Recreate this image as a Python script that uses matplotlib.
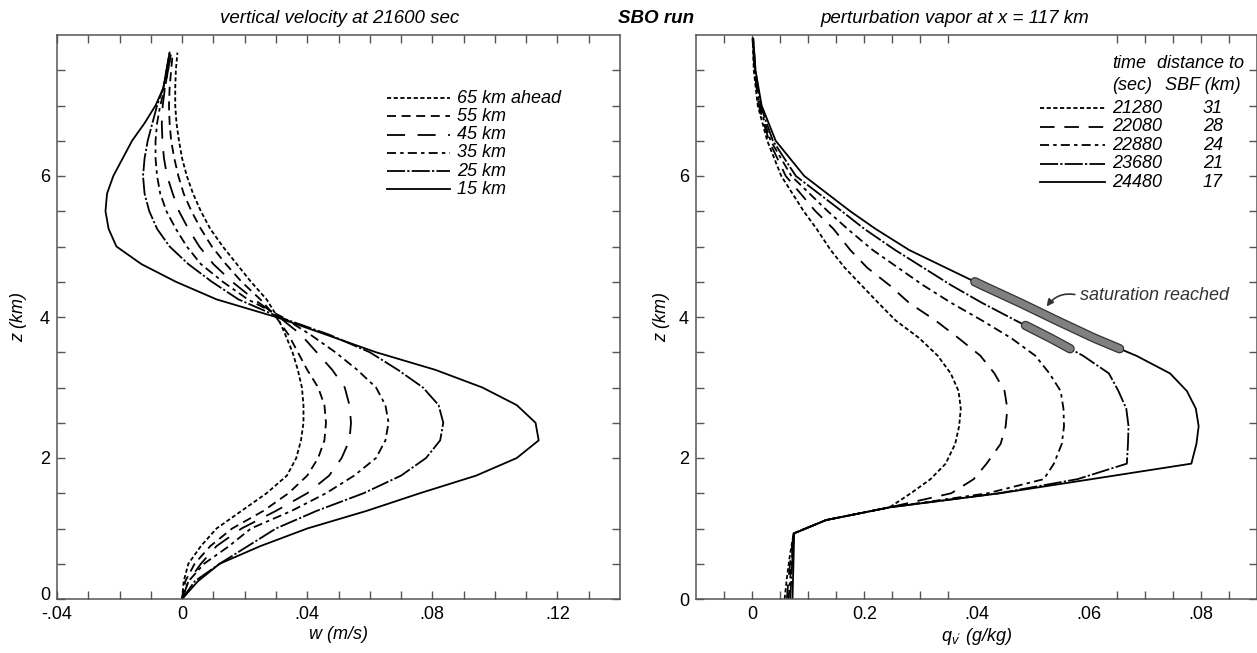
import numpy as np
import matplotlib
matplotlib.use("Agg")
import matplotlib.pyplot as plt
import matplotlib.patheffects as pe
import matplotlib.transforms as mtransforms

plt.rcParams['font.family'] = ['Liberation Sans', 'DejaVu Sans']
plt.rcParams['mathtext.fontset'] = 'custom'
plt.rcParams['mathtext.it'] = 'Liberation Sans:italic'
plt.rcParams['mathtext.rm'] = 'Liberation Sans'
plt.rcParams['lines.scale_dashes'] = False

# ---- left panel: vertical velocity w (m/s) at 21600 s ----
z_w = [0.0, 0.25, 0.5, 0.75, 1.0, 1.25, 1.5, 1.75, 2.0, 2.25, 2.5, 2.75, 3.0, 3.25, 3.5, 3.75,
       4.0, 4.25, 4.5, 4.75, 5.0, 5.25, 5.5, 5.75, 6.0, 6.25, 6.5, 6.75, 7.0, 7.25, 7.5, 7.75]
w_65 = [0, 0.0005, 0.002, 0.006, 0.011, 0.019, 0.027, 0.0335, 0.0365, 0.038, 0.0388, 0.0388, 0.0383, 0.037, 0.0353, 0.033,
        0.0305, 0.027, 0.022, 0.0175, 0.013, 0.009, 0.006, 0.0035, 0.0015, 0.0, -0.001, -0.0018, -0.0022, -0.0022, -0.002, -0.0015]
w_55 = [0, 0.001, 0.004, 0.009, 0.016, 0.026, 0.034, 0.040, 0.0435, 0.0455, 0.046, 0.0455, 0.0435, 0.040, 0.037, 0.034,
        0.030, 0.025, 0.019, 0.014, 0.0095, 0.006, 0.003, 0.0005, -0.0012, -0.0025, -0.0035, -0.004, -0.0042, -0.004, -0.0035, -0.003]
w_45 = [0, 0.002, 0.006, 0.011, 0.019, 0.030, 0.040, 0.047, 0.051, 0.0535, 0.054, 0.0535, 0.052, 0.048, 0.043, 0.038,
        0.031, 0.023, 0.016, 0.010, 0.0055, 0.002, -0.001, -0.003, -0.0048, -0.0058, -0.0063, -0.0065, -0.0062, -0.0055, -0.0045, -0.0035]
w_35 = [0, 0.002, 0.007, 0.015, 0.022, 0.035, 0.046, 0.055, 0.062, 0.065, 0.066, 0.065, 0.062, 0.056, 0.049, 0.041,
        0.032, 0.021, 0.013, 0.006, 0.0015, -0.002, -0.005, -0.007, -0.008, -0.0085, -0.0085, -0.008, -0.007, -0.0055, -0.0045, -0.0035]
w_25 = [0, 0.004, 0.012, 0.021, 0.030, 0.043, 0.058, 0.070, 0.078, 0.0825, 0.0835, 0.082, 0.077, 0.069, 0.060, 0.047,
        0.031, 0.018, 0.0095, 0.002, -0.004, -0.008, -0.0105, -0.012, -0.0125, -0.012, -0.011, -0.0095, -0.008, -0.006, -0.005, -0.004]
w_15 = [0, 0.005, 0.012, 0.025, 0.040, 0.059, 0.076, 0.094, 0.107, 0.114, 0.113, 0.107, 0.096, 0.081, 0.062, 0.046,
        0.030, 0.011, -0.002, -0.013, -0.021, -0.0235, -0.0245, -0.024, -0.022, -0.019, -0.016, -0.012, -0.0085, -0.006, -0.005, -0.004]
w_labels = ['65 km ahead', '55 km', '45 km', '35 km', '25 km', '15 km']

# ---- right panel: perturbation vapor qv' (g/kg) at x = 117 km ----
z_q = [0.0, 0.3, 0.6, 0.93, 1.12, 1.3, 1.5, 1.7, 1.92, 2.2, 2.45, 2.7, 2.95, 3.2,
       3.45, 3.7, 3.95, 4.2, 4.45, 4.7, 4.95, 5.25, 5.5, 6.0, 6.5, 7.0, 7.5, 7.95]
q_21280 = [0.0058, 0.0062, 0.0067, 0.0074, 0.0132, 0.0245, 0.0283, 0.0318, 0.0345, 0.0362, 0.0369, 0.0372, 0.0368, 0.0354,
           0.0331, 0.0298, 0.0256, 0.0225, 0.0195, 0.0165, 0.014, 0.0115, 0.0092, 0.0052, 0.0027, 0.001, 0.0003, 0.0001]
q_22080 = [0.0062, 0.0065, 0.0069, 0.0074, 0.0132, 0.0245, 0.0355, 0.0395, 0.0418, 0.0443, 0.0452, 0.0455, 0.045, 0.0432,
           0.0407, 0.0368, 0.0327, 0.028, 0.0245, 0.0205, 0.0175, 0.0145, 0.0113, 0.006, 0.003, 0.0012, 0.0004, 0.0001]
q_22880 = [0.0065, 0.0068, 0.0071, 0.0074, 0.0132, 0.0245, 0.042, 0.052, 0.0538, 0.0552, 0.0556, 0.0555, 0.055, 0.053,
           0.0505, 0.0462, 0.041, 0.0355, 0.0305, 0.026, 0.0215, 0.017, 0.0135, 0.007, 0.0033, 0.0013, 0.0005, 0.0001]
q_23680 = [0.0068, 0.007, 0.0072, 0.0074, 0.0132, 0.0245, 0.044, 0.058, 0.0668, 0.067, 0.0671, 0.0667, 0.0653, 0.0636,
           0.059, 0.0532, 0.047, 0.041, 0.0355, 0.0305, 0.0255, 0.020, 0.016, 0.0078, 0.0037, 0.0015, 0.0006, 0.0002]
q_24480 = [0.0072, 0.0073, 0.0074, 0.0075, 0.0132, 0.0245, 0.0442, 0.0605, 0.0783, 0.0792, 0.0796, 0.0791, 0.0775, 0.0745,
           0.0685, 0.061, 0.0543, 0.0478, 0.041, 0.0345, 0.028, 0.022, 0.0175, 0.0093, 0.0042, 0.0017, 0.0006, 0.0002]
q_times = ['21280', '22080', '22880', '23680', '24480']
q_dist = ['31', '28', '24', '21', '17']
# height range (km) where saturation was reached on the two latest profiles
sat_23680 = (3.55, 3.88)
sat_24480 = (3.55, 4.50)

# line styles (dash lengths in points)
DOT = (0, (3.0, 1.8))
DASH_S = (0, (6.5, 4.0))
DASH_L = (0, (13, 9))
DASH_M = (0, (10.5, 7))
DASHDOT = (0, (6.5, 3, 2.5, 3))
LONGDASHDOT = (0, (13, 1.6, 1.6, 1.6))
w_styles = [DOT, DASH_S, DASH_L, DASHDOT, LONGDASHDOT, '-']
q_styles = [DOT, DASH_M, DASHDOT, LONGDASHDOT, '-']

SPINE = '#555555'
FS = 13

fig = plt.figure(figsize=(12.57, 6.53), dpi=100)
ax1 = fig.add_axes([57 / 1257, 54 / 653, 563 / 1257, 564 / 653])
ax2 = fig.add_axes([696 / 1257, 54 / 653, 561 / 1257, 564 / 653])

# ---- left curves ----
for w, ls in zip([w_65, w_55, w_45, w_35, w_25, w_15], w_styles):
    ax1.plot(w, z_w, color='k', ls=ls, lw=1.3)

# ---- right curves ----
q_all = [q_21280, q_22080, q_22880, q_23680, q_24480]
for q, ls in zip(q_all, q_styles):
    ax2.plot(q, z_q, color='k', ls=ls, lw=1.3)

# saturation segments
for q, (z0, z1) in [(q_23680, sat_23680), (q_24480, sat_24480)]:
    zz = np.linspace(z0, z1, 30)
    qq = np.interp(zz, z_q, q)
    ax2.plot(qq, zz, color='#808080', lw=5, solid_capstyle='round', zorder=4,
             path_effects=[pe.Stroke(linewidth=6.8, foreground='#333333'), pe.Normal()])

ax2.annotate('saturation reached', xy=(0.0525, 4.15), xytext=(0.0585, 4.30),
             fontsize=FS, style='italic', color='#333333', va='center', ha='left',
             arrowprops=dict(arrowstyle='-|>', color='#333333', lw=1.2, mutation_scale=10,
                             connectionstyle='arc3,rad=0.35', shrinkA=2, shrinkB=0,
                             relpos=(0, 0.5)))

# ---- axes formatting ----
for ax in (ax1, ax2):
    ax.set_ylim(0, 8)
    for s in ax.spines.values():
        s.set_color(SPINE)
        s.set_linewidth(1.1)
    ax.tick_params(which='both', direction='in', top=True, right=True, length=6, width=1,
                   color=SPINE, labelsize=FS, pad=5)
    zt = [0.5 * i for i in range(16)]
    ax.set_yticks(zt, [str(int(t)) if t in (0, 2, 4, 6) else '' for t in zt])
    for t, tick in zip(zt, ax.yaxis.get_major_ticks()):
        if t == 1.5:
            tick.tick2line.set_visible(False)

ax1.set_ylabel('z (km)', fontsize=FS, style='italic', labelpad=9)
ax2.set_ylabel('z (km)', fontsize=FS, style='italic', labelpad=6)

ax1.set_xlim(-0.04, 0.14)
wt = [round(-0.04 + 0.01 * i, 3) for i in range(18)]
w_lab = {-0.04: '-.04', 0.0: '0', 0.04: '.04', 0.08: '.08', 0.12: '.12'}
ax1.set_xticks(wt, [w_lab.get(t, '') for t in wt])
ax1.set_xlabel('w (m/s)', fontsize=FS, style='italic', labelpad=2)

# lift the "0" on the left z axis a little so it clears "-.04"
lab0 = ax1.get_yticklabels()[0]
lab0.set_transform(lab0.get_transform() +
                   mtransforms.ScaledTranslation(0, 4 / 72, fig.dpi_scale_trans))

ax2.set_xlim(-0.01, 0.09)
qt = [round(-0.005 + 0.005 * i, 3) for i in range(19)]
q_lab = {0.0: '0', 0.02: '0.2', 0.04: '.04', 0.06: '.06', 0.08: '.08'}
ax2.set_xticks(qt, [q_lab.get(t, '') for t in qt])
for t, tick in zip(qt, ax2.xaxis.get_major_ticks()):
    if 0.04 <= t <= 0.06:
        tick.tick1line.set_visible(False)
        tick.tick2line.set_visible(False)
ax2.set_xlabel(r"$q_{v'}$ (g/kg)", fontsize=FS, style='italic', labelpad=2)

# ---- legends ----
for i, (lab, ls) in enumerate(zip(w_labels, w_styles)):
    y = 0.888 - i * 0.0323
    ax1.plot([0.586, 0.698], [y, y], transform=ax1.transAxes, color='k', ls=ls, lw=1.3)
    ax1.text(0.7105, y, lab, transform=ax1.transAxes, va='center', ha='left',
             fontsize=FS, style='italic')

ax2.text(0.7415, 0.950, 'time', transform=ax2.transAxes, va='center', ha='left', fontsize=FS, style='italic')
ax2.text(0.8217, 0.950, 'distance to', transform=ax2.transAxes, va='center', ha='left', fontsize=FS, style='italic')
ax2.text(0.7415, 0.911, '(sec)', transform=ax2.transAxes, va='center', ha='left', fontsize=FS, style='italic')
ax2.text(0.8360, 0.911, 'SBF (km)', transform=ax2.transAxes, va='center', ha='left', fontsize=FS, style='italic')
for i, (tm, d, ls) in enumerate(zip(q_times, q_dist, q_styles)):
    y = 0.870 - i * 0.0328
    ax2.plot([0.613, 0.729], [y, y], transform=ax2.transAxes, color='k', ls=ls, lw=1.3)
    ax2.text(0.7415, y, tm, transform=ax2.transAxes, va='center', ha='left', fontsize=FS, style='italic')
    ax2.text(0.9216, y, d, transform=ax2.transAxes, va='center', ha='center', fontsize=FS, style='italic')

# ---- titles ----
fig.text(340 / 1257, 0.972, 'vertical velocity at 21600 sec', ha='center', va='center',
         fontsize=13.5, style='italic')
fig.text(656 / 1257, 0.972, 'SBO run', ha='center', va='center', fontsize=13.5,
         style='italic', weight='bold')
fig.text(955 / 1257, 0.972, 'perturbation vapor at x = 117 km', ha='center', va='center',
         fontsize=13.5, style='italic')

fig.savefig('out.png', dpi=100)
